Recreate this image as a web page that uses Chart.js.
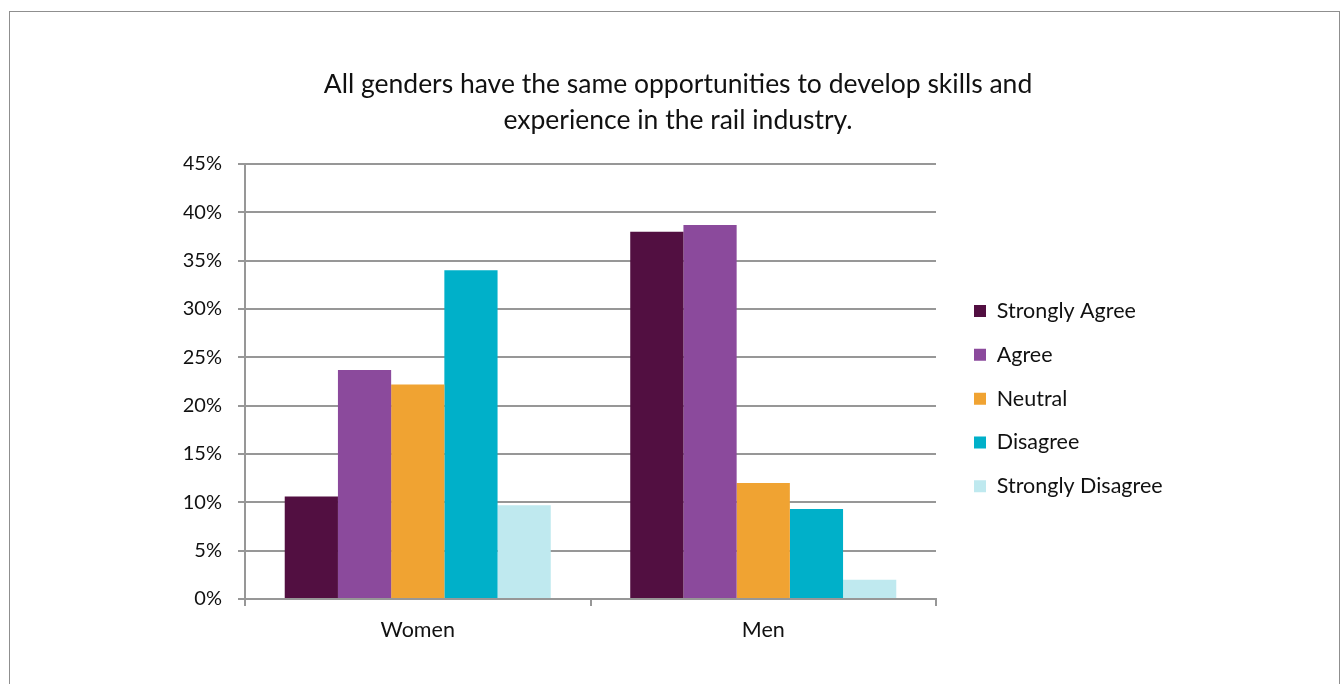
<!DOCTYPE html>
<html>
<head>
<meta charset="utf-8">
<title>Rail industry survey</title>
<script src="https://cdn.jsdelivr.net/npm/chart.js@4.4.1/dist/chart.umd.min.js"></script>
<style>
  html, body { margin: 0; padding: 0; background: #fff; }
  /* thin grey frame round the whole chart, open at the bottom */
  #frame {
    position: absolute; left: 9px; top: 11px;
    width: 1331px; height: 700px;
    border: 1px solid #8f8f8f; box-sizing: border-box;
  }
  #chart { position: absolute; left: 0; top: 0; }
</style>
</head>
<body>
<div id="frame"></div>
<canvas id="chart" width="1340" height="684"></canvas>
<script>
// Survey data (% of respondents)
const groups = ['Women', 'Men'];
const responses = ['Strongly Agree', 'Agree', 'Neutral', 'Disagree', 'Strongly Disagree'];
const womenPct = [10.6, 23.7, 22.2, 34.0, 9.7];
const menPct = [38.0, 38.7, 12.0, 9.3, 2.0];
const yTicks = [0, 5, 10, 15, 20, 25, 30, 35, 40, 45];
const colours = ['#520f41', '#8b4a9c', '#f0a332', '#00b0c9', '#bfe9ef'];

const FONT = 'Lato';
const TEXT = '#111111';
const GRID = '#979797';

// legend sizing, so the plot keeps its width and the legend sits just right of it
const LEGEND_FONT = 21.5;
const LEGEND_PAD = 22.3;
const LEGEND_BOX = 12;
const LEGEND_X = 974;   // left edge of the colour boxes
const PLOT_LEFT = 245;
const PLOT_RIGHT = 936;

const measure = document.createElement('canvas').getContext('2d');
measure.font = 'normal ' + LEGEND_FONT + 'px ' + FONT;
const longest = Math.max(...responses.map(t => measure.measureText(t).width));
const legendWidth = LEGEND_PAD + LEGEND_BOX + LEGEND_FONT / 2 + longest + 10;
const legendLeft = LEGEND_X - LEGEND_PAD;
const padRight = 1340 - legendLeft - legendWidth;
const padLeft = padRight + 16;   // keeps the title centred a little right of the page middle

Chart.defaults.font.family = FONT;
Chart.defaults.color = TEXT;

new Chart(document.getElementById('chart'), {
  type: 'bar',
  data: {
    labels: groups,
    datasets: responses.map((name, i) => ({
      label: name,
      data: [womenPct[i], menPct[i]],
      backgroundColor: colours[i],
      borderWidth: 0,
      barPercentage: 1,
      categoryPercentage: 0.77
    }))
  },
  options: {
    responsive: false,
    animation: false,
    layout: { padding: { left: padLeft, right: padRight, top: 0, bottom: 0 } },
    scales: {
      x: {
        grid: { drawOnChartArea: false, offset: true, tickLength: 7, color: GRID, lineWidth: 2 },
        border: { color: GRID, width: 2 },
        ticks: { padding: 11, font: { size: 21.5 }, color: TEXT },
        afterFit(scale) { scale.height = 85; }
      },
      y: {
        min: 0,
        max: 45,
        afterBuildTicks(scale) { scale.ticks = yTicks.map(v => ({ value: v })); },
        ticks: { padding: 16, font: { size: 20 }, color: TEXT, callback: v => v + '%' },
        grid: { tickLength: 7, color: GRID, lineWidth: 2 },
        border: { color: GRID, width: 2 },
        afterFit(scale) { scale.width = PLOT_LEFT - padLeft; }
      },
      // empty spacer between the plot and the legend
      gap: {
        type: 'linear',
        position: 'right',
        grid: { display: false },
        border: { display: false },
        ticks: { display: false },
        afterFit(scale) { scale.width = legendLeft - PLOT_RIGHT; }
      }
    },
    plugins: {
      title: {
        display: true,
        text: ['All genders have the same opportunities to develop skills and',
               'experience in the rail industry.'],
        font: { size: 26.5, weight: 'normal', lineHeight: 36 / 26.5 },
        color: TEXT,
        padding: { top: 66, bottom: 26 }
      },
      legend: {
        position: 'right',
        fullSize: false,
        align: 'center',
        maxWidth: 600,
        title: { display: true, text: '', font: { size: 1, lineHeight: 1 }, padding: { top: 33.3, bottom: 0 } },
        labels: {
          boxWidth: LEGEND_BOX,
          boxHeight: LEGEND_BOX,
          padding: LEGEND_PAD,
          font: { size: LEGEND_FONT },
          color: TEXT
        }
      },
      tooltip: { enabled: false }
    }
  }
});
</script>
</body>
</html>
